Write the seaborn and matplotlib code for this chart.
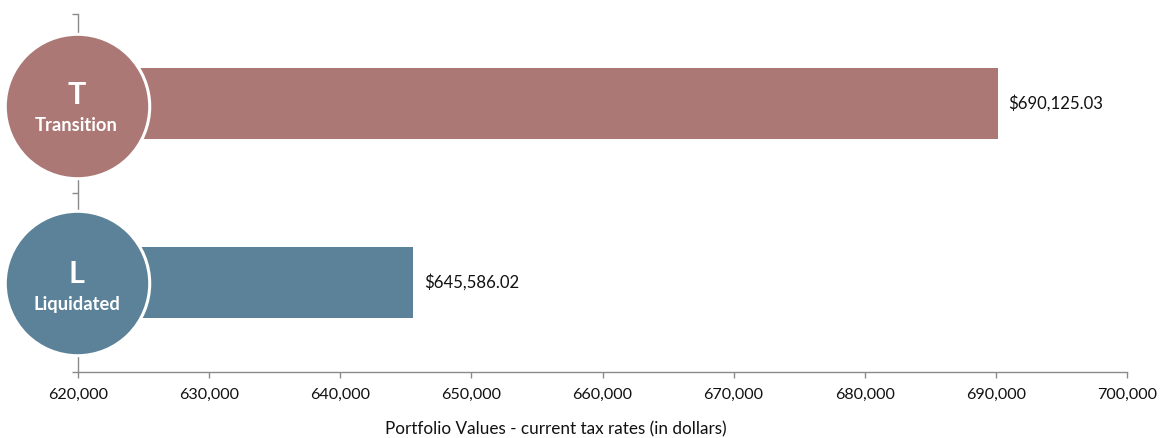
import matplotlib
matplotlib.use("Agg")
import matplotlib.pyplot as plt
import matplotlib.transforms as mtrans
import pandas as pd
import seaborn as sns

categories = ["Transition", "Liquidated"]
initials = ["T", "L"]
portfolio_values = [690125.03, 645586.02]
bar_colors = ["#AB7875", "#5B8299"]
x_ticks = [620000, 630000, 640000, 650000, 660000, 670000, 680000, 690000, 700000]
x_title = "Portfolio Values - current tax rates (in dollars)"

sns.set_theme(style="white")
plt.rcParams["font.family"] = ["Lato", "DejaVu Sans"]

W, H, DPI = 1161, 438, 100
AXIS_GREY = "#8A8A8A"

df = pd.DataFrame({"category": categories, "value": portfolio_values})

fig = plt.figure(figsize=(W / DPI, H / DPI), dpi=DPI)
ax = fig.add_axes([78 / W, 1 - 372 / H, (1127 - 78) / W, (372 - 14) / H])

sns.barplot(
    data=df, y="category", x="value", hue="category", palette=bar_colors,
    width=0.4, saturation=1, legend=False, dodge=False, linewidth=0, ax=ax,
)

ax.set_xlim(x_ticks[0], x_ticks[-1])
ax.set_ylim(1.5, -0.5)
ax.set_xticks(x_ticks)
ax.set_xticklabels([f"{t:,}" for t in x_ticks], fontsize=11.6, color="#111111")
ax.set_yticks([-0.5, 0.5, 1.5])
ax.set_yticklabels([])
ax.set_xlabel("")
ax.set_ylabel("")
ax.tick_params(axis="both", which="major", length=4.5, width=1, color=AXIS_GREY,
               bottom=True, left=True)
ax.tick_params(axis="x", pad=6.8)

sns.despine(ax=ax)
for side in ("left", "bottom"):
    ax.spines[side].set_color(AXIS_GREY)
    ax.spines[side].set_linewidth(1)

# Dollar value to the right of each bar
for container, value in zip(ax.containers, portfolio_values):
    ax.bar_label(container, labels=[f"${value:,.2f}"], padding=7.5, fontsize=12.1,
                 color="#111111")

# Round category badges sitting on the axis line, pulled slightly left of it
badge_shift = ax.transData + mtrans.ScaledTranslation(-1.5 / DPI, 0, fig.dpi_scale_trans)
for i, (cat, letter, color) in enumerate(zip(categories, initials, bar_colors)):
    nudge = 0.014 if i == 0 else 0.003
    ax.scatter([x_ticks[0]], [i + nudge], s=104 ** 2, color=color, edgecolor="white",
               linewidth=2.2, clip_on=False, zorder=5, transform=badge_shift)
    ax.annotate(letter, (x_ticks[0], i), xytext=(-1, -4), textcoords="offset points",
                ha="center", va="bottom", fontsize=22, fontweight="bold",
                color="white", zorder=6)
    ax.annotate(cat, (x_ticks[0], i), xytext=(-1, -16), textcoords="offset points",
                ha="center", va="center", fontsize=13.2, fontweight="bold",
                color="white", zorder=6)

fig.text(556 / W, 1 - 429.5 / H, x_title, ha="center", va="center", fontsize=12.3,
         color="#111111")

fig.savefig("out.png", dpi=DPI, facecolor="white")
